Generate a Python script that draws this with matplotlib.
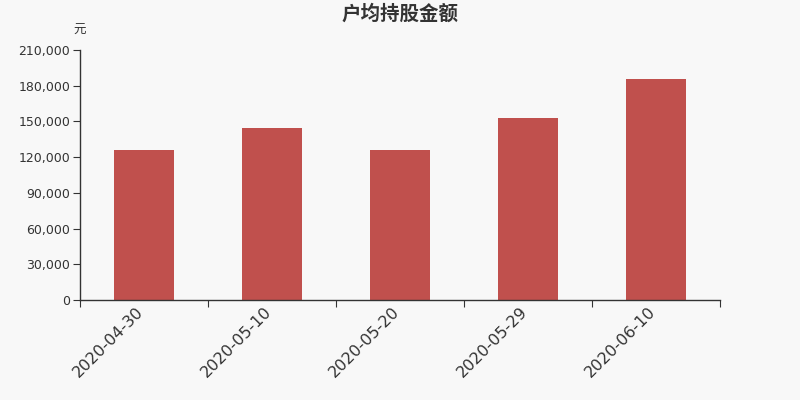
import matplotlib
matplotlib.use("Agg")
import matplotlib.pyplot as plt
import matplotlib.transforms as mtransforms
from matplotlib.ticker import FuncFormatter, FixedLocator
import numpy as np

plt.rcParams['font.family'] = ['DejaVu Sans', 'Noto Sans CJK SC']

categories = ["2020-04-30", "2020-05-10", "2020-05-20", "2020-05-29", "2020-06-10"]
values = [126000, 144200, 126300, 152600, 185900]
yticks = [0, 30000, 60000, 90000, 120000, 150000, 180000, 210000]

bg = "#f8f8f8"
fig = plt.figure(figsize=(8, 4), dpi=100, facecolor=bg)
ax = fig.add_axes([0.1, 0.25, 0.8, 0.625], facecolor=bg)

x = np.arange(len(categories))
ax.bar(x, values, width=0.47, color="#c0504d", zorder=2)
ax.set_xlim(-0.5, len(categories) - 0.5)
ax.set_ylim(0, 210000)

ax.set_yticks(yticks)
ax.yaxis.set_major_formatter(FuncFormatter(lambda v, p: f"{int(v):,}"))
ax.tick_params(axis='y', direction='out', length=5, color="#333333", labelsize=9, labelcolor="#333333", pad=2)

ax.xaxis.set_major_locator(FixedLocator(np.arange(-0.5, len(categories), 1.0)))
ax.set_xticklabels([])
ax.set_xticks(x, minor=True)
ax.set_xticklabels(categories, minor=True, rotation=45, ha='right', rotation_mode='anchor', fontsize=11.5, color="#333333")
ax.tick_params(axis='x', which='major', direction='out', length=5, color="#333333")
ax.tick_params(axis='x', which='minor', length=0, pad=3)
offset = mtransforms.ScaledTranslation(-6 / 72, 0, fig.dpi_scale_trans)
for lbl in ax.get_xticklabels(minor=True):
    lbl.set_transform(lbl.get_transform() + offset)

for s in ['top', 'right']:
    ax.spines[s].set_visible(False)
for s in ['left', 'bottom']:
    ax.spines[s].set_color("#333333")
    ax.spines[s].set_linewidth(1)

fig.text(0.5, 0.965, "户均持股金额", ha='center', va='center', fontsize=14, fontweight='bold',
         color="#333333", family=['Noto Sans CJK SC'])
fig.text(0.092, 0.925, "元", ha='left', va='center', fontsize=9, color="#333333", family=['Noto Sans CJK SC'])

fig.savefig("out.png", dpi=100, facecolor=bg)
